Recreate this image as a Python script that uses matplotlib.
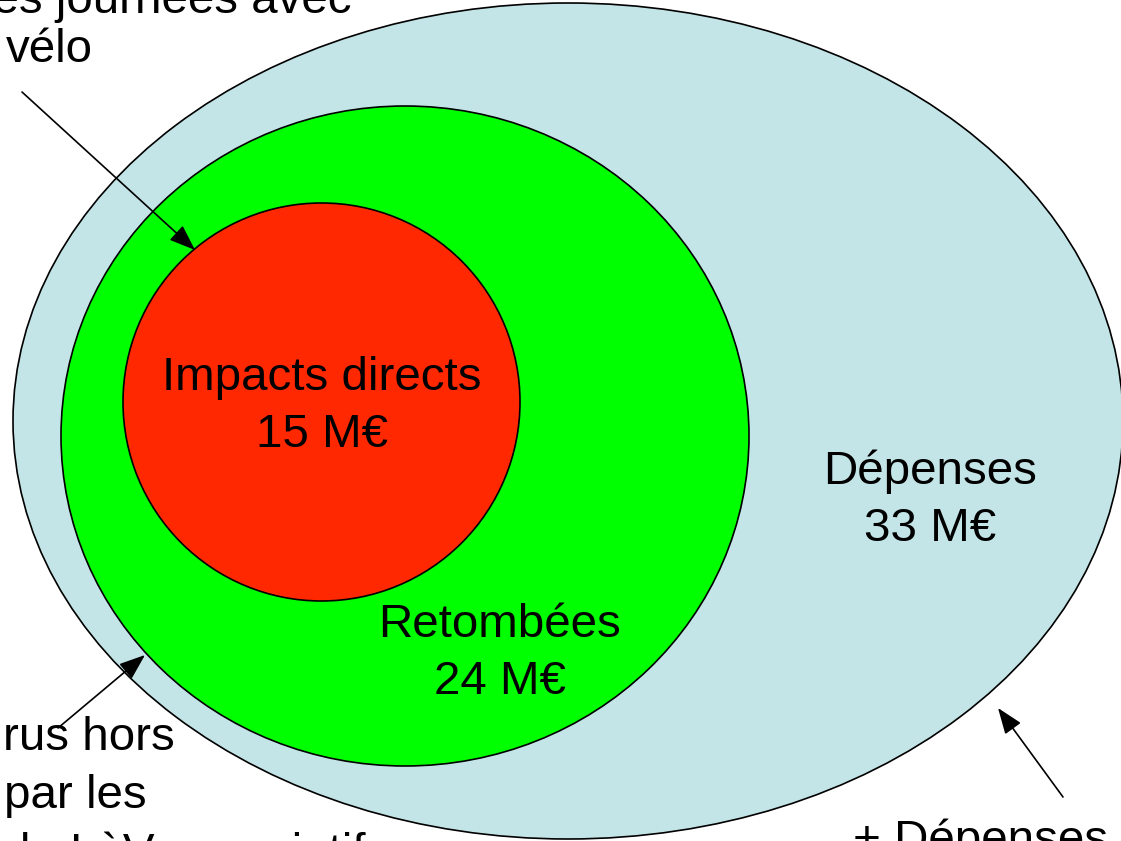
import matplotlib
matplotlib.use("Agg")
import matplotlib.pyplot as plt
from matplotlib.patches import Ellipse, FancyArrowPatch

# ---- data ----
set_names = ["Dépenses", "Retombées", "Impacts directs"]
set_values = ["33 M€", "24 M€", "15 M€"]
set_colors = ["#C4E5E8", "#00FF00", "#FF2800"]
# ellipse geometry in pixel space (center x, center y, width, height)
set_geom = [(568, 421, 1110, 836), (405, 436, 688, 660), (321.5, 402, 397, 398)]
# label baselines (x center, first-line baseline)
label_pos = [(930, 484), (500, 637), (321.5, 390)]

side_texts = [
    ("les journées avec", 352, 13, "right"),
    ("vélo", 6, 62, "left"),
    ("rus hors", 3, 750, "left"),
    ("par les", 4, 808, "left"),
    ("de LèV associatifs", 4, 866, "left"),
    ("+ Dépenses", 853, 853, "left"),
]
arrows = [((22, 92), (195, 250)), ((58, 728), (145, 655)), ((1063, 797), (998, 708))]

W, H = 1121, 841
fig = plt.figure(figsize=(W / 100, H / 100), dpi=100)
ax = fig.add_axes([0, 0, 1, 1])
ax.set_xlim(0, W)
ax.set_ylim(H, 0)
ax.set_aspect("auto")
ax.axis("off")

FS = 34.2
FONT = ["Liberation Sans", "DejaVu Sans"]
LINE = 57

for (cx, cy, w, h), col in zip(set_geom, set_colors):
    ax.add_patch(Ellipse((cx, cy), w, h, facecolor=col, edgecolor="black", lw=1.2))

for name, val, (x, y) in zip(set_names, set_values, label_pos):
    ax.text(x, y, name, ha="center", va="baseline", fontsize=FS, family=FONT)
    ax.text(x, y + LINE, val, ha="center", va="baseline", fontsize=FS, family=FONT)

for s, x, y, ha in side_texts:
    ax.text(x, y, s, ha=ha, va="baseline", fontsize=FS, family=FONT, clip_on=False)

for start, end in arrows:
    ax.add_patch(FancyArrowPatch(start, end, arrowstyle="-|>,head_length=16,head_width=6",
                                 mutation_scale=1, color="black", lw=1.2,
                                 shrinkA=0, shrinkB=0))

fig.savefig("out.png", dpi=100)
